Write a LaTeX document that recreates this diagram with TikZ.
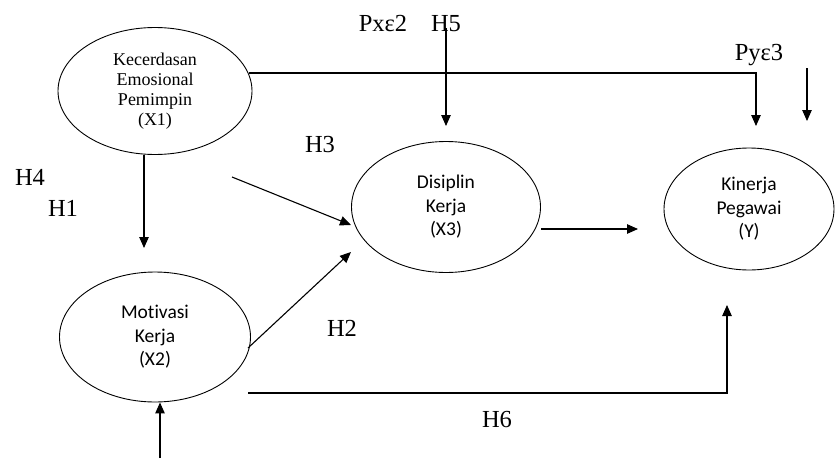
\documentclass[tikz,border=0pt]{standalone}
\usepackage{fontspec}
\setmainfont{Liberation Serif}
\newfontfamily\calib[Ligatures=NoCommon]{Carlito}
\usetikzlibrary{arrows.meta,shapes.geometric}
\begin{document}
\begin{tikzpicture}[x=1pt,y=-1pt,
  oval/.style={draw,ellipse,line width=0.9pt,inner sep=0pt,align=center},
  serifin/.style={font=\fontsize{18}{20}\selectfont},
  sansin/.style={font=\calib\fontsize{19.5}{23.5}\selectfont},
  lbl/.style={font=\fontsize{24.5}{26}\selectfont,inner sep=0pt},
  arr/.style={line width=1.1pt,-{Triangle[length=11pt,width=9.5pt]}},
  ln/.style={line width=1pt}]
\useasboundingbox (0,0) rectangle (835,458);
% ovals
\node[oval,serifin,minimum width=194pt,minimum height=127pt] (X1) at (155,91) {Kecerdasan\\Emosional\\Pemimpin\\(X1)};
\node[oval,sansin,minimum width=191pt,minimum height=130pt] (X2) at (155,337) {Motivasi\\Kerja\\(X2)};
\node[oval,sansin,minimum width=189pt,minimum height=131pt] (X3) at (446,207) {Disiplin\\Kerja\\(X3)};
\node[oval,sansin,minimum width=170pt,minimum height=122pt] (Y) at (749,209) {Kinerja\\Pegawai\\(Y)};
% labels
\node[lbl] (pxe) at (383,24) {Pxε2};
\node[lbl] (h5) at (446,24) {H5};
\node[lbl] (pye) at (759,55) {Pyε3};
\node[lbl] (h3) at (320,145) {H3};
\node[lbl] (h4) at (30,177) {H4};
\node[lbl] (h1) at (63,208) {H1};
\node[lbl] (h2) at (342,328) {H2};
\node[lbl] (h6) at (497,420) {H6};
% free ends
\coordinate (a1) at (249,73);
\coordinate (a1t) at (756,126);
\coordinate (b1) at (144,248);
\coordinate (c1) at (232,177);
\coordinate (c1t) at (351,225);
\coordinate (d1) at (248,348);
\coordinate (d1t) at (351,252);
\coordinate (e1) at (541,229);
\coordinate (e1t) at (638,229);
\coordinate (f1) at (248,393);
\coordinate (f1t) at (727,305);
\coordinate (g1) at (160,458);
\coordinate (h5s) at (446,28);
\coordinate (h5t) at (446,126);
\coordinate (r1) at (807,68);
\coordinate (r1t) at (807,121);
% connectors
\draw[arr] (a1) -| (a1t);
\draw[arr] (X1.south -| b1) -- (b1);
\draw[arr] (c1) -- (c1t);
\draw[arr] (d1) -- (d1t);
\draw[arr] (e1) -- (e1t);
\draw[arr] (f1) -| (f1t);
\draw[arr] (g1) -- (X2.south -| g1);
\draw[arr] (h5s) -- (h5t);
\draw[arr] (r1) -- (r1t);
\end{tikzpicture}
\end{document}
